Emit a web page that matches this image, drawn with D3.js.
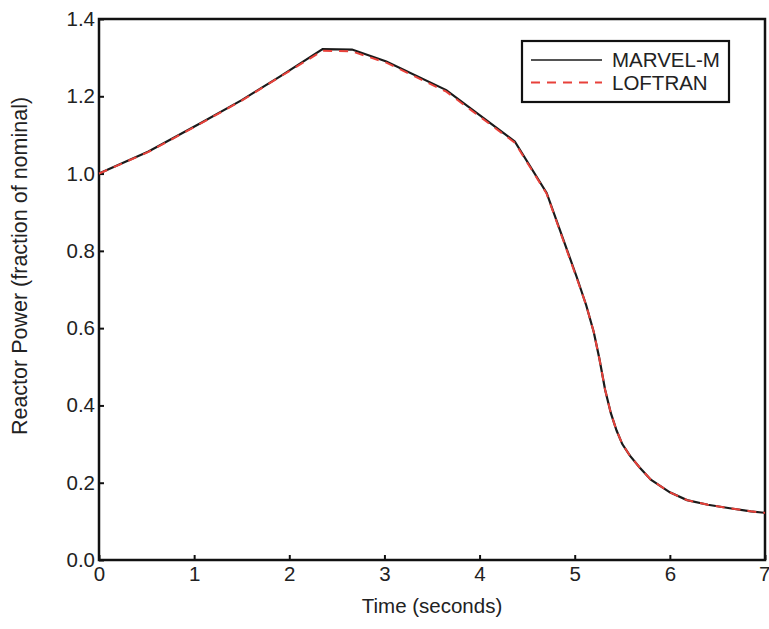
<!DOCTYPE html>
<html><head><meta charset="utf-8">
<script src="https://cdn.jsdelivr.net/npm/d3@7/dist/d3.min.js"></script>
<style>body{margin:0;background:#fff}svg{display:block}text{font-family:"Liberation Sans",Arial,sans-serif;fill:#222}</style>
</head><body>
<script>
const seriesNames = ["MARVEL-M", "LOFTRAN"];
const timeMarvel = [0, 0.52, 1.08, 1.5, 1.9, 2.35, 2.66, 3.02, 3.65, 4.37, 4.705, 5.02, 5.12, 5.2, 5.26, 5.32, 5.38, 5.44, 5.5, 5.58, 5.68, 5.8, 6.0, 6.18, 6.4, 6.63, 6.85, 7.0];
const powerMarvel = [1.0, 1.057, 1.132, 1.19, 1.251, 1.322, 1.321, 1.29, 1.216, 1.083, 0.95, 0.733, 0.66, 0.59, 0.52, 0.44, 0.38, 0.335, 0.30, 0.27, 0.24, 0.208, 0.175, 0.155, 0.143, 0.134, 0.126, 0.122];
const timeLoftran = timeMarvel;
const powerLoftran = [1.0, 1.056, 1.131, 1.189, 1.25, 1.318, 1.316, 1.287, 1.212, 1.08, 0.948, 0.73, 0.66, 0.59, 0.52, 0.44, 0.38, 0.335, 0.30, 0.27, 0.24, 0.208, 0.175, 0.155, 0.143, 0.134, 0.126, 0.122];
const xTicks = [0, 1, 2, 3, 4, 5, 6, 7];
const yTicks = [0.0, 0.2, 0.4, 0.6, 0.8, 1.0, 1.2, 1.4];

const W = 769, H = 629;
const m = {left: 99, right: 4, top: 19, bottom: 69};
const FS = 20.5;
const svg = d3.select("body").append("svg").attr("width", W).attr("height", H);
const x = d3.scaleLinear().domain([0, 7]).range([m.left, W - m.right]);
const y = d3.scaleLinear().domain([0, 1.4]).range([H - m.bottom, m.top]);

const xAxis = svg.append("g").attr("transform", `translate(0,${H - m.bottom})`)
  .call(d3.axisBottom(x).tickValues(xTicks).tickFormat(d3.format("d")).tickSizeInner(-5).tickSizeOuter(0).tickPadding(6));
const yAxis = svg.append("g").attr("transform", `translate(${m.left},0)`)
  .call(d3.axisLeft(y).tickValues(yTicks).tickFormat(d3.format(".1f")).tickSizeInner(-5).tickSizeOuter(0).tickPadding(4));
[xAxis, yAxis].forEach(g => {
  g.select(".domain").remove();
  g.selectAll("line").attr("stroke", "#111").attr("stroke-width", 2);
  g.selectAll("text").attr("font-size", FS).attr("fill", "#222").style("font-family", '"Liberation Sans",Arial,sans-serif');
});
xAxis.selectAll(".tick").filter(d => d === 7).select("text").attr("text-anchor", "end").attr("dx", 5);
svg.append("rect").attr("x", x(0)).attr("y", y(1.4)).attr("width", x(7) - x(0)).attr("height", y(0) - y(1.4))
  .attr("fill", "none").attr("stroke", "#111").attr("stroke-width", 2.5);

const line = d3.line().x(d => x(d[0])).y(d => y(d[1]));
svg.append("path").datum(d3.zip(timeMarvel, powerMarvel)).attr("d", line)
  .attr("fill", "none").attr("stroke", "#1a1a1a").attr("stroke-width", 2.2);
svg.append("path").datum(d3.zip(timeLoftran, powerLoftran)).attr("d", line)
  .attr("fill", "none").attr("stroke", "#e8413a").attr("stroke-width", 2).attr("stroke-dasharray", "9,7");

svg.append("text").attr("x", (x(0) + x(7)) / 2).attr("y", 613).attr("text-anchor", "middle").attr("font-size", FS).text("Time (seconds)");
svg.append("text").attr("transform", `translate(27,266) rotate(-90)`).attr("text-anchor", "middle").attr("font-size", 21.5).text("Reactor Power (fraction of nominal)");

const lg = svg.append("g");
lg.append("rect").attr("x", 522).attr("y", 41).attr("width", 207).attr("height", 61).attr("fill", "#fff").attr("stroke", "#111").attr("stroke-width", 2.2);
const styles = [{c: "#1a1a1a", d: null, w: 1.6}, {c: "#e8413a", d: "9,7", w: 2}];
seriesNames.forEach((n, i) => {
  const yy = 60 + i * 22.5;
  lg.append("line").attr("x1", 531).attr("x2", 602).attr("y1", yy).attr("y2", yy)
    .attr("stroke", styles[i].c).attr("stroke-width", styles[i].w).attr("stroke-dasharray", styles[i].d);
  lg.append("text").attr("x", 612).attr("y", yy + 7).attr("font-size", FS).text(n);
});
</script>
</body></html>
